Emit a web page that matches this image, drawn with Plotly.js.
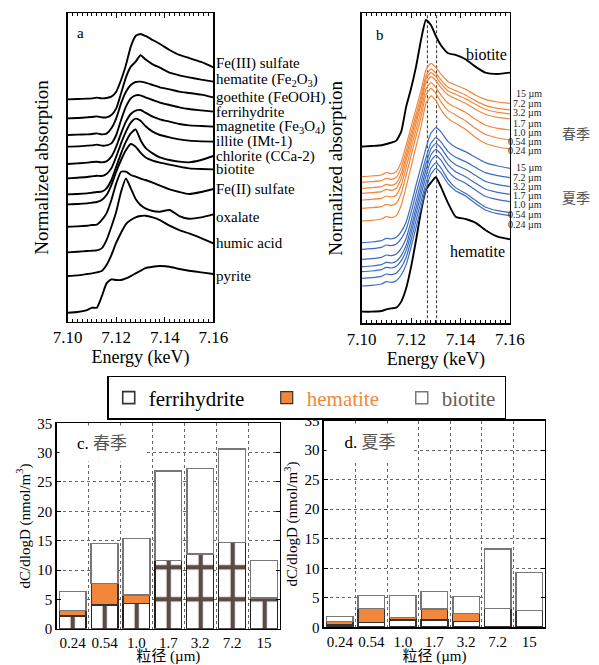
<!DOCTYPE html>
<html><head><meta charset="utf-8">
<script src="https://cdn.plot.ly/plotly-3.0.1.min.js"></script>
<style>html,body{margin:0;padding:0;background:#fff}#chart{width:599px;height:665px}</style>
</head><body><div id="chart"></div>
<script>
// ---------- DATA ----------
const energy = [7.100, 7.104, 7.108, 7.110, 7.112, 7.114, 7.116, 7.118, 7.120, 7.122, 7.124, 7.126, 7.128, 7.130, 7.132, 7.135, 7.138, 7.142, 7.146, 7.150, 7.155, 7.160];

// panel a: reference spectra (stacked with offsets)
const fe3Sulfate   = [6.67, 6.68, 6.69, 6.70, 6.72, 6.70, 6.71, 6.75, 6.90, 7.25, 7.70, 8.25, 8.57, 8.63, 8.57, 8.45, 8.33, 8.15, 8.00, 7.91, 7.79, 7.63];
const hematiteA    = [6.10, 6.11, 6.13, 6.14, 6.16, 6.13, 6.13, 6.20, 6.40, 6.85, 7.33, 7.65, 7.80, 7.99, 7.87, 7.72, 7.62, 7.47, 7.39, 7.33, 7.26, 7.20];
const goethite     = [5.60, 5.61, 5.62, 5.63, 5.65, 5.62, 5.64, 5.80, 6.10, 6.55, 6.90, 7.10, 7.19, 7.20, 7.17, 7.10, 7.03, 6.97, 6.90, 6.86, 6.81, 6.73];
const ferrihydriteA= [5.25, 5.26, 5.28, 5.29, 5.31, 5.28, 5.29, 5.35, 5.60, 6.05, 6.45, 6.70, 6.79, 6.79, 6.73, 6.65, 6.57, 6.50, 6.43, 6.38, 6.34, 6.30];
const magnetite    = [4.73, 4.75, 4.77, 4.79, 4.80, 4.78, 4.81, 4.95, 5.25, 5.65, 6.00, 6.23, 6.33, 6.35, 6.27, 6.15, 6.07, 6.00, 5.93, 5.89, 5.87, 5.85];
const illite       = [4.30, 4.32, 4.34, 4.36, 4.38, 4.37, 4.43, 4.60, 4.95, 5.35, 5.70, 5.97, 6.09, 6.03, 5.87, 5.70, 5.60, 5.53, 5.47, 5.43, 5.41, 5.40];
const chlorite     = [3.82, 3.83, 3.85, 3.87, 3.89, 3.90, 4.00, 4.25, 4.65, 5.05, 5.40, 5.65, 5.77, 5.45, 5.22, 5.05, 4.93, 4.85, 4.80, 4.78, 4.85, 4.97];
const biotiteA     = [3.52, 3.53, 3.55, 3.57, 3.59, 3.65, 3.80, 4.10, 4.50, 4.85, 5.15, 5.33, 5.25, 5.07, 4.93, 4.83, 4.77, 4.71, 4.65, 4.60, 4.58, 4.57];
const fe2Sulfate   = [2.85, 2.86, 2.88, 2.90, 2.91, 3.05, 3.25, 3.65, 4.15, 4.50, 4.50, 4.40, 4.35, 4.29, 4.25, 4.17, 4.08, 3.97, 3.89, 3.83, 3.89, 3.98];
const oxalate      = [2.08, 2.10, 2.12, 2.13, 2.14, 2.20, 2.45, 2.85, 3.30, 3.90, 4.30, 4.00, 3.68, 3.50, 3.40, 3.32, 3.30, 3.35, 3.17, 3.09, 3.13, 3.22];
const humicAcid    = [1.37, 1.39, 1.43, 1.45, 1.48, 1.52, 1.70, 2.00, 2.37, 2.67, 2.93, 3.05, 3.13, 3.17, 3.18, 3.13, 3.05, 2.88, 2.75, 2.65, 2.51, 2.35];
const pyrite       = [0.27, 0.29, 0.35, 0.42, 0.42, 0.75, 1.15, 1.27, 1.25, 1.25, 1.30, 1.37, 1.45, 1.53, 1.61, 1.65, 1.67, 1.65, 1.58, 1.53, 1.48, 1.43];
const refNames = ['Fe(III) sulfate', 'hematite (Fe<sub>2</sub>O<sub>3</sub>)', 'goethite (FeOOH)', 'ferrihydrite', 'magnetite (Fe<sub>3</sub>O<sub>4</sub>)', 'illite (IMt-1)', 'chlorite (CCa-2)', 'biotite', 'Fe(II) sulfate', 'oxalate', 'humic acid', 'pyrite'];

// panel b: samples vs end members
const biotiteB  = [5.30, 5.32, 5.34, 5.38, 5.42, 5.48, 5.75, 6.50, 7.05, 7.70, 8.50, 9.10, 8.95, 8.62, 8.35, 8.10, 8.05, 7.92, 7.70, 7.52, 7.48, 7.52];
const hematiteB = [0.35, 0.35, 0.37, 0.42, 0.45, 0.47, 0.65, 1.05, 1.70, 2.50, 3.35, 4.00, 4.22, 4.38, 4.10, 3.60, 3.20, 3.13, 3.02, 2.80, 2.60, 2.52];
const spring15   = [4.40, 4.42, 4.45, 4.52, 4.49, 4.55, 4.84, 5.35, 5.90, 6.44, 6.98, 7.60, 7.80, 7.68, 7.48, 7.25, 7.15, 7.02, 6.85, 6.72, 6.64, 6.60];
const spring7_2  = [4.23, 4.25, 4.28, 4.35, 4.32, 4.38, 4.67, 5.18, 5.73, 6.27, 6.81, 7.43, 7.63, 7.51, 7.31, 7.08, 6.98, 6.85, 6.68, 6.54, 6.45, 6.40];
const spring3_2  = [4.05, 4.07, 4.10, 4.17, 4.14, 4.20, 4.50, 5.02, 5.58, 6.13, 6.68, 7.32, 7.52, 7.40, 7.20, 6.97, 6.87, 6.74, 6.57, 6.42, 6.33, 6.28];
const spring1_7  = [3.90, 3.92, 3.95, 4.02, 3.99, 4.05, 4.35, 4.88, 5.44, 6.00, 6.56, 7.20, 7.40, 7.28, 7.08, 6.85, 6.74, 6.60, 6.42, 6.27, 6.18, 6.13];
const spring1_0  = [3.70, 3.72, 3.75, 3.82, 3.79, 3.85, 4.15, 4.68, 5.25, 5.81, 6.37, 7.02, 7.22, 7.08, 6.85, 6.60, 6.48, 6.33, 6.12, 5.95, 5.85, 5.80];
const spring0_54 = [3.45, 3.47, 3.50, 3.57, 3.54, 3.60, 3.90, 4.45, 5.03, 5.61, 6.18, 6.85, 7.05, 6.90, 6.65, 6.38, 6.25, 6.08, 5.85, 5.67, 5.56, 5.50];
const spring0_24 = [3.07, 3.09, 3.13, 3.20, 3.17, 3.23, 3.54, 4.10, 4.70, 5.30, 5.90, 6.60, 6.82, 6.68, 6.42, 6.14, 6.00, 5.82, 5.58, 5.40, 5.29, 5.23];
const summer15   = [2.42, 2.44, 2.48, 2.55, 2.53, 2.58, 2.75, 3.04, 3.56, 4.15, 4.70, 5.25, 5.70, 5.87, 5.75, 5.45, 5.28, 5.15, 4.98, 4.82, 4.72, 4.65];
const summer7_2  = [2.22, 2.24, 2.28, 2.35, 2.33, 2.38, 2.54, 2.82, 3.33, 3.90, 4.43, 4.97, 5.40, 5.57, 5.45, 5.15, 4.98, 4.85, 4.68, 4.52, 4.43, 4.37];
const summer3_2  = [1.92, 1.94, 1.98, 2.05, 2.03, 2.08, 2.25, 2.55, 3.07, 3.66, 4.22, 4.78, 5.23, 5.40, 5.27, 4.95, 4.76, 4.62, 4.44, 4.26, 4.16, 4.10];
const summer1_7  = [1.70, 1.72, 1.76, 1.83, 1.81, 1.86, 2.03, 2.34, 2.87, 3.46, 4.03, 4.60, 5.05, 5.22, 5.08, 4.75, 4.55, 4.40, 4.21, 4.03, 3.93, 3.87];
const summer1_0  = [1.55, 1.57, 1.61, 1.68, 1.66, 1.71, 1.88, 2.18, 2.70, 3.29, 3.85, 4.42, 4.87, 5.04, 4.90, 4.56, 4.35, 4.20, 4.00, 3.81, 3.71, 3.65];
const summer0_54 = [1.35, 1.37, 1.41, 1.48, 1.46, 1.51, 1.68, 1.98, 2.50, 3.09, 3.65, 4.21, 4.65, 4.82, 4.67, 4.30, 4.07, 3.90, 3.69, 3.49, 3.38, 3.32];
const summer0_24 = [1.12, 1.14, 1.18, 1.25, 1.23, 1.28, 1.45, 1.76, 2.29, 2.88, 3.45, 4.02, 4.47, 4.65, 4.52, 4.18, 3.98, 3.82, 3.60, 3.40, 3.29, 3.23];
const edgeLines = [7.1266, 7.1303];
const sizeLabels = ['15 µm', '7.2 µm', '3.2 µm', '1.7 µm', '1.0 µm', '0.54 µm', '0.24 µm'];

// panels c, d: dC/dlogD (nmol/m3)
const sizeCats = ['0.24', '0.54', '1.0', '1.7', '3.2', '7.2', '15'];
const springFerri = [2.15, 4.05, 4.35, 11.6, 12.7, 14.7, 5.2];
const springHem   = [0.92, 3.68, 1.39, 0, 0, 0, 0];
const springBio   = [3.23, 6.76, 9.60, 15.3, 14.6, 15.9, 6.4];
const summerFerri = [0.40, 0.85, 1.24, 1.24, 0.95, 3.22, 2.82];
const summerHem   = [0.55, 2.37, 0.45, 1.87, 1.42, 0, 0];
const summerBio   = [0.85, 2.14, 3.67, 2.92, 2.82, 10.05, 6.50];

// ---------- STYLE ----------
const SERIF = '"Liberation Serif", "Noto Sans CJK SC", serif';
const CJK = '"Noto Sans CJK SC", sans-serif';
const ORANGE = '#f2873c';
const BLUE = '#3b6cbd';
const traces = [];

const refSeries = [fe3Sulfate, hematiteA, goethite, ferrihydriteA, magnetite, illite, chlorite, biotiteA, fe2Sulfate, oxalate, humicAcid, pyrite];
refSeries.forEach((s, i) => traces.push({x: energy, y: s, xaxis: 'x', yaxis: 'y', mode: 'lines', name: refNames[i],
  line: {color: '#000', width: 1.9, shape: 'spline', smoothing: 0.5}, showlegend: false, hoverinfo: 'skip'}));

edgeLines.forEach(e => traces.push({x: [e, e], y: [0, 9.3], xaxis: 'x2', yaxis: 'y2', mode: 'lines',
  line: {color: '#444', width: 1.1, dash: '3px,2px'}, showlegend: false, hoverinfo: 'skip'}));
[biotiteB, hematiteB].forEach(s => traces.push({x: energy, y: s, xaxis: 'x2', yaxis: 'y2', mode: 'lines',
  line: {color: '#000', width: 1.9, shape: 'spline', smoothing: 0.5}, showlegend: false, hoverinfo: 'skip'}));
const springSeries = [spring15, spring7_2, spring3_2, spring1_7, spring1_0, spring0_54, spring0_24];
const summerSeries = [summer15, summer7_2, summer3_2, summer1_7, summer1_0, summer0_54, summer0_24];
springSeries.forEach((s, i) => traces.push({x: energy, y: s, xaxis: 'x2', yaxis: 'y2', mode: 'lines', name: '春季 ' + sizeLabels[i],
  line: {color: ORANGE, width: 1.2, shape: 'spline', smoothing: 0.5}, showlegend: false, hoverinfo: 'skip'}));
summerSeries.forEach((s, i) => traces.push({x: energy, y: s, xaxis: 'x2', yaxis: 'y2', mode: 'lines', name: '夏季 ' + sizeLabels[i],
  line: {color: BLUE, width: 1.2, shape: 'spline', smoothing: 0.5}, showlegend: false, hoverinfo: 'skip'}));

// bars
const barW = 0.84;
const hemName = '<span style="color:' + ORANGE + '">hematite</span>';
const bioName = '<span style="color:#6b5a53">biotite</span>';
traces.push({type: 'bar', x: sizeCats, y: springFerri, xaxis: 'x3', yaxis: 'y3', width: barW, name: 'ferrihydrite', showlegend: false,
  marker: {color: '#fff', line: {color: '#222', width: 1.2}, pattern: {shape: '+', fgcolor: '#5b4b45', bgcolor: '#fff', size: 32, solidity: 0.25}}});
traces.push({type: 'bar', x: sizeCats, y: springHem, xaxis: 'x3', yaxis: 'y3', width: barW, name: hemName, showlegend: false,
  marker: {color: ORANGE, line: {color: '#333', width: 1.2}}});
traces.push({type: 'bar', x: sizeCats, y: springBio, xaxis: 'x3', yaxis: 'y3', width: barW, name: bioName, showlegend: false,
  marker: {color: '#fff', line: {color: '#777', width: 1.5}}});
traces.push({type: 'bar', x: sizeCats, y: summerFerri, xaxis: 'x4', yaxis: 'y4', width: barW, name: 'ferrihydrite', legendwidth: 113,
  marker: {color: '#fff', line: {color: '#333', width: 1.6}}});
traces.push({type: 'bar', x: sizeCats, y: summerHem, xaxis: 'x4', yaxis: 'y4', width: barW, name: hemName, legendwidth: 90,
  marker: {color: ORANGE, line: {color: '#333', width: 1.2}}});
traces.push({type: 'bar', x: sizeCats, y: summerBio, xaxis: 'x4', yaxis: 'y4', width: barW, name: bioName, legendwidth: 58,
  marker: {color: '#fff', line: {color: '#777', width: 1.5}}});

// ---------- LAYOUT ----------
const specX = (dom, anchor) => ({domain: dom, anchor: anchor, range: [7.1, 7.16], tickvals: [7.10, 7.12, 7.14, 7.16],
  ticktext: ['7.10', '7.12', '7.14', '7.16'], ticks: 'inside', ticklen: 5, tickcolor: '#000', showline: true, linecolor: '#000',
  linewidth: 1.3, mirror: 'allticks', showgrid: false, zeroline: false, automargin: false,
  minor: {dtick: 0.002, tick0: 7.1, ticks: 'inside', ticklen: 3, tickcolor: '#000', showgrid: false},
  tickfont: {family: SERIF, size: 17, color: '#000'},
  title: {text: 'Energy (keV)', font: {family: SERIF, size: 18, color: '#000'}, standoff: 2}});
const specY = (dom, anchor, top) => ({domain: dom, anchor: anchor, range: [0, top], showticklabels: false, ticks: '',
  showline: true, linecolor: '#000', linewidth: 1.3, mirror: true, showgrid: false, zeroline: false, automargin: false,
  title: {text: 'Normalized absorption', font: {family: SERIF, size: 19, color: '#000'}, standoff: 12}});
const barX = (dom, anchor) => ({domain: dom, anchor: anchor, type: 'category', range: [-0.5, 6.5], tickson: 'boundaries',
  ticks: '', tickangle: 0, showgrid: true, griddash: 'dot', gridcolor: '#666', gridwidth: 1, showline: true, linecolor: '#000', linewidth: 1.5,
  mirror: true, automargin: false, tickfont: {family: SERIF, size: 15, color: '#000'},
  title: {text: '粒径 (µm)', font: {family: SERIF, size: 15, color: '#000'}, standoff: 3}});
const barY = (dom, anchor) => ({domain: dom, anchor: anchor, range: [0, 35], dtick: 5, ticks: 'inside', ticklen: 4, tickcolor: '#000',
  showgrid: true, griddash: 'dot', gridcolor: '#666', gridwidth: 1, zeroline: false, showline: true, linecolor: '#000', linewidth: 1.5,
  mirror: 'ticks', automargin: false, tickfont: {family: SERIF, size: 15, color: '#000'},
  title: {text: 'dC/dlogD (nmol/m<sup>3</sup>)', font: {family: SERIF, size: 15, color: '#000'}, standoff: 3}});

const annotations = [];
const aLabelY = [7.75, 7.25, 6.73, 6.30, 5.83, 5.40, 4.97, 4.57, 3.97, 3.13, 2.37, 1.37];
refNames.forEach((n, i) => annotations.push({text: n, xref: 'x', yref: 'y', x: 7.16, y: aLabelY[i], xanchor: 'left', yanchor: 'middle', xshift: 1,
  showarrow: false, font: {family: SERIF, size: 15, color: '#000'}}));
const note = (text, x, y, xa, ya, font, extra) => annotations.push(Object.assign({text: text, xref: 'paper', yref: 'paper', x: x, y: y,
  xanchor: xa, yanchor: ya, showarrow: false, font: font}, extra || {}));
note('a', 0.1336, 0.9504, 'center', 'middle', {family: SERIF, size: 15, color: '#000'});
note('b', 0.6344, 0.9474, 'center', 'middle', {family: SERIF, size: 15, color: '#000'});
note('biotite', 0.8514, 0.9173, 'right', 'middle', {family: SERIF, size: 16, color: '#000'}, {xshift: -1});
note('hematite', 0.8514, 0.6211, 'right', 'middle', {family: SERIF, size: 16, color: '#000'}, {xshift: -3});
const springLabelY = [6.90, 6.60, 6.32, 6.00, 5.73, 5.45, 5.17];
const summerLabelY = [4.68, 4.37, 4.10, 3.82, 3.57, 3.27, 2.97];
sizeLabels.forEach((t, i) => {
  annotations.push({text: t, xref: 'paper', yref: 'y2', x: 0.906, y: springLabelY[i], xanchor: 'right', yanchor: 'middle', showarrow: false, borderpad: 0, font: {family: SERIF, size: 10, color: '#222'}});
  annotations.push({text: t, xref: 'paper', yref: 'y2', x: 0.906, y: summerLabelY[i], xanchor: 'right', yanchor: 'middle', showarrow: false, borderpad: 0, font: {family: SERIF, size: 10, color: '#222'}});
});
note('春季', 0.9616, 0.800, 'center', 'middle', {family: CJK, size: 14, color: '#555'});
note('夏季', 0.9616, 0.7038, 'center', 'middle', {family: CJK, size: 14, color: '#555'});
// panel titles on white boxes that mask the grid
note('c. <span style="color:#555">春季</span>', 0.1703, 0.3331, 'center', 'middle', {family: SERIF, size: 17, color: '#000'},
  {width: 84, height: 35, bgcolor: '#fff', borderpad: 0});
note('d. <span style="color:#555">夏季</span>', 0.6169, 0.3357, 'center', 'middle', {family: SERIF, size: 17, color: '#000'},
  {width: 86, height: 36, bgcolor: '#fff', borderpad: 0});

const layout = {
  width: 599, height: 665, margin: {l: 0, r: 0, t: 0, b: 0}, paper_bgcolor: '#fff', plot_bgcolor: '#fff',
  barmode: 'stack', font: {family: SERIF, color: '#000'},
  xaxis: specX([0.1130, 0.3561], 'y'), yaxis: specY([0.5162, 0.9800], 'x', 9.25),
  xaxis2: specX([0.6038, 0.8514], 'y2'), yaxis2: specY([0.5138, 0.9800], 'x2', 9.30),
  xaxis3: barX([0.0947, 0.4674], 'y3'), yaxis3: barY([0.0546, 0.3635], 'x3'),
  xaxis4: barX([0.5409, 0.9098], 'y4'), yaxis4: barY([0.0567, 0.3674], 'x4'),
  legend: {orientation: 'h', x: 0.179, y: 0.4346, xanchor: 'left', yanchor: 'top', bgcolor: '#fff', bordercolor: '#000', borderwidth: 1.5,
    font: {family: SERIF, size: 21, color: '#000'}, traceorder: 'normal'},
  annotations: annotations, showlegend: true
};

Plotly.newPlot('chart', traces, layout, {displayModeBar: false, staticPlot: true});
</script></body></html>
